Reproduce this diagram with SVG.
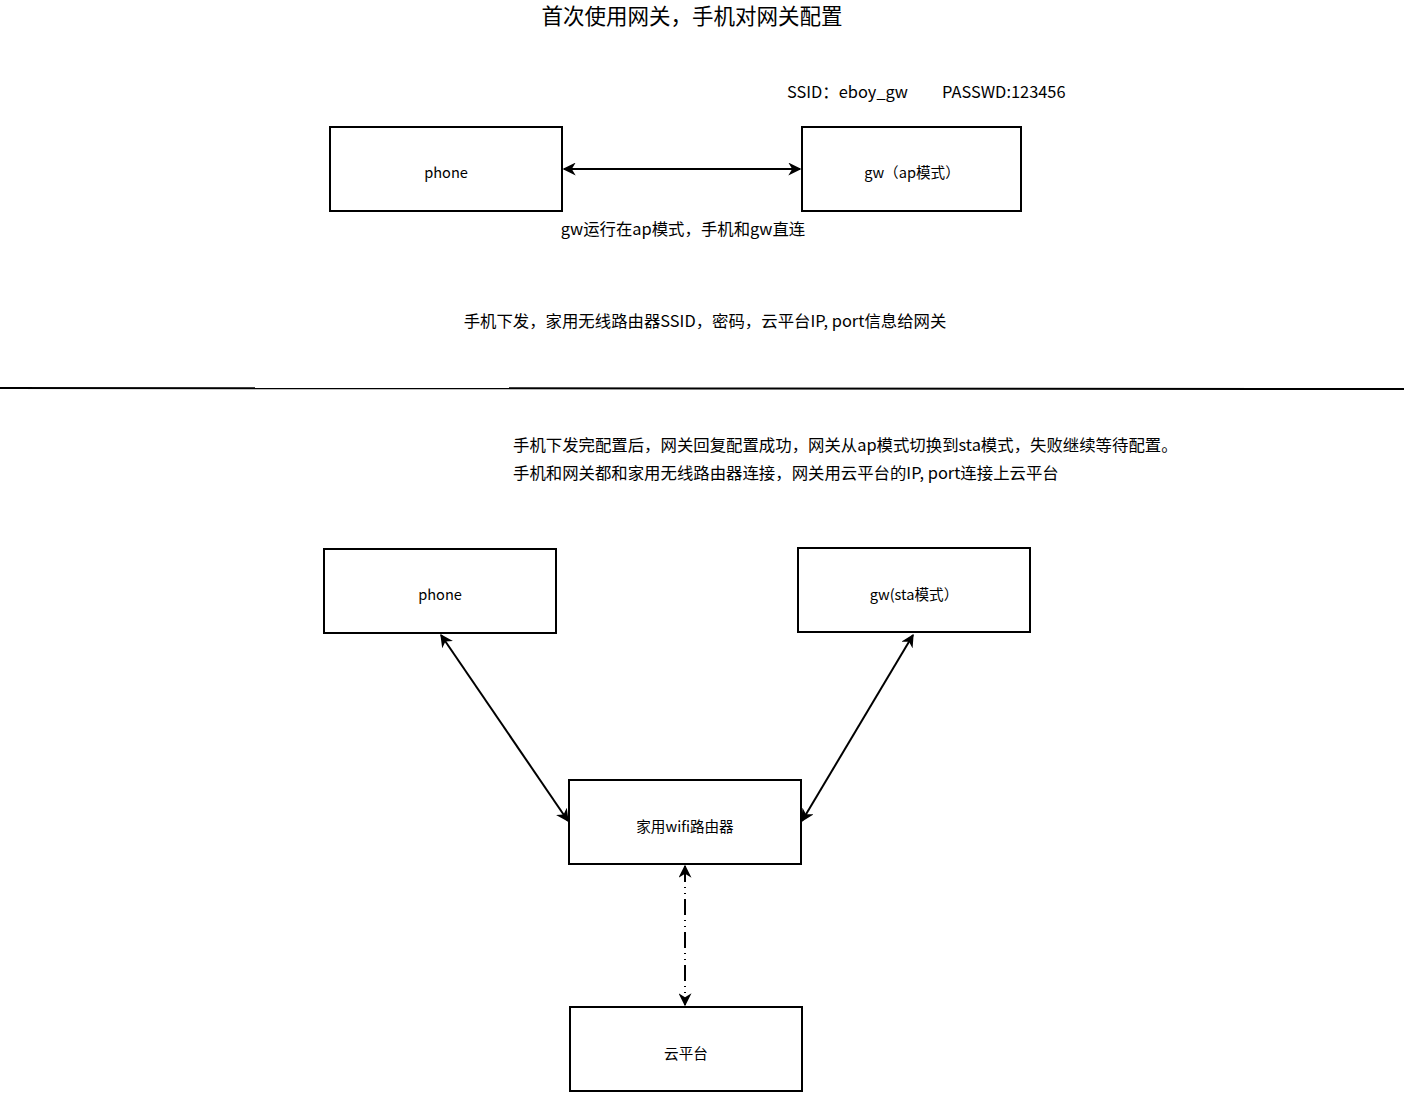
<svg xmlns="http://www.w3.org/2000/svg" width="1406" height="1094" viewBox="0 0 1406 1094">
<defs>
<style>
text{font-family:"Noto Sans CJK SC","Noto Sans",sans-serif;fill:#000}
.box{fill:#fff;stroke:#000;stroke-width:2}
.lbl{font-size:14.6px;text-anchor:middle;dominant-baseline:central}
.t{font-size:16.4px}
.c{stroke:#000;stroke-width:2;fill:none}
</style>
<marker id="ae" viewBox="0 0 10 10" refX="9" refY="5" markerWidth="13" markerHeight="13" orient="auto-start-reverse" markerUnits="userSpaceOnUse">
<path d="M0,0 L10,5 L0,10 L3,5 Z" fill="#000"/>
</marker>
</defs>
<rect width="1406" height="1094" fill="#fff"/>
<text x="692" y="24" font-size="21.5" text-anchor="middle">首次使用网关，手机对网关配置</text>
<text class="t" x="787" y="98">SSID：eboy_gw</text>
<text class="t" x="942" y="98">PASSWD:123456</text>
<text class="t" x="683" y="235" text-anchor="middle">gw运行在ap模式，手机和gw直连</text>
<text class="t" x="705" y="327" text-anchor="middle">手机下发，家用无线路由器SSID，密码，云平台IP, port信息给网关</text>
<path d="M0,388 L702,388.5 L1404,389" stroke="#000" stroke-width="2" fill="none"/>
<text class="t" x="513" y="451">手机下发完配置后，网关回复配置成功，网关从ap模式切换到sta模式，失败继续等待配置。</text>
<text class="t" x="513" y="479">手机和网关都和家用无线路由器连接，网关用云平台的IP, port连接上云平台</text>
<g id="connectors">
<line class="c" x1="564" y1="169" x2="800" y2="169" marker-start="url(#ae)" marker-end="url(#ae)"/>
<line class="c" x1="441" y1="635" x2="568" y2="821" marker-start="url(#ae)" marker-end="url(#ae)"/>
<line class="c" x1="913" y1="635" x2="802" y2="821" marker-start="url(#ae)" marker-end="url(#ae)"/>
<line class="c" x1="685" y1="866" x2="685" y2="1005" stroke-dasharray="16 5 1 5 1 5" marker-start="url(#ae)" marker-end="url(#ae)"/>
</g>
<g id="phone1"><rect class="box" x="330" y="127" width="232" height="84"/><text class="lbl" x="446" y="171">phone</text></g>
<g id="gw1"><rect class="box" x="802" y="127" width="219" height="84"/><text class="lbl" x="912" y="171">gw（ap模式）</text></g>
<g id="phone2"><rect class="box" x="324" y="549" width="232" height="84"/><text class="lbl" x="440" y="593">phone</text></g>
<g id="gw2"><rect class="box" x="798" y="548" width="232" height="84"/><text class="lbl" x="914" y="593">gw(sta模式）</text></g>
<g id="router"><rect class="box" x="569" y="780" width="232" height="84"/><text class="lbl" x="685" y="825">家用wifi路由器</text></g>
<g id="cloud"><rect class="box" x="570" y="1007" width="232" height="84"/><text class="lbl" x="686" y="1052">云平台</text></g>
</svg>
